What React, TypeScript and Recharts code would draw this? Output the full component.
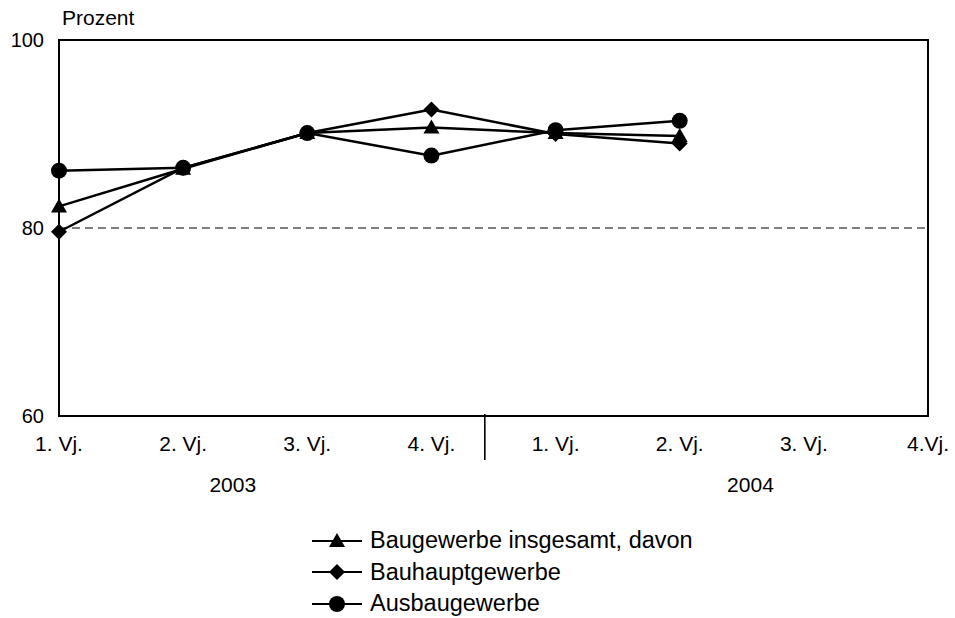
import { Line, LineChart, ReferenceArea, ReferenceLine, XAxis, YAxis } from "recharts"

const quarters = ["1. Vj.", "2. Vj.", "3. Vj.", "4. Vj.", "1. Vj.", "2. Vj.", "3. Vj.", "4.Vj."]
const years = ["2003", "2004"]
const yearPos = [1.4, 5.57]
const dividerPos = 3.43

const insgesamt = [82.3, 86.3, 90.1, 90.7, 90.1, 89.8]
const bauhaupt = [79.6, 86.4, 90.1, 92.6, 90.0, 89.0]
const ausbau = [86.1, 86.4, 90.1, 87.7, 90.4, 91.4]

const data = insgesamt.map((v, i) => ({
  x: i,
  insgesamt: v,
  bauhaupt: bauhaupt[i],
  ausbau: ausbau[i],
}))

const series = [
  { key: "insgesamt", name: "Baugewerbe insgesamt, davon", shape: "triangle" },
  { key: "bauhaupt", name: "Bauhauptgewerbe", shape: "diamond" },
  { key: "ausbau", name: "Ausbaugewerbe", shape: "circle" },
] as const

const font = "'Liberation Sans', Arial, sans-serif"

function Shape({ cx, cy, shape }: { cx: number; cy: number; shape: string }) {
  if (shape === "circle") return <circle cx={cx} cy={cy} r={8} fill="#000" />
  if (shape === "diamond")
    return <path d={`M${cx},${cy - 8}L${cx + 8},${cy}L${cx},${cy + 8}L${cx - 8},${cy}Z`} fill="#000" />
  return <path d={`M${cx},${cy - 8}L${cx + 8},${cy + 6}L${cx - 8},${cy + 6}Z`} fill="#000" />
}

function marker(shape: string) {
  return (p: any) => <Shape key={`${shape}-${p.index}`} cx={p.cx} cy={p.cy} shape={shape} />
}

function QuarterTick({ x, y, payload }: any) {
  if (payload.value === dividerPos) {
    return <line x1={x} x2={x} y1={y - 10} y2={y + 36} stroke="#000" strokeWidth={1.6} />
  }
  return (
    <text x={x} y={y} dy={27} textAnchor="middle" fontSize={21} fill="#000" fontFamily={font}>
      {quarters[payload.value]}
    </text>
  )
}

function YearTick({ x, y, payload }: any) {
  return (
    <text x={x} y={y} dy={22} textAnchor="middle" fontSize={21} fill="#000" fontFamily={font}>
      {years[yearPos.indexOf(payload.value)]}
    </text>
  )
}

function LegendBox() {
  return (
    <div style={{ position: "absolute", left: 312, top: 525, fontFamily: font, fontSize: 23.5, color: "#000" }}>
      {series.map((s) => (
        <div key={s.key} style={{ display: "flex", alignItems: "center", height: 31.5 }}>
          <svg width={52} height={20}>
            <line x1={0} x2={50} y1={10} y2={10} stroke="#000" strokeWidth={2.2} />
            <Shape cx={25} cy={10} shape={s.shape} />
          </svg>
          <span style={{ marginLeft: 6 }}>{s.name}</span>
        </div>
      ))}
    </div>
  )
}

export default function App() {
  return (
    <div style={{ position: "absolute", left: 0, top: 0, width: 955, height: 618, background: "#fff" }}>
      <div style={{ position: "absolute", left: 62, top: 6, fontFamily: font, fontSize: 21 }}>Prozent</div>
      <LineChart width={955} height={618} data={data} margin={{ top: 40, right: 27, bottom: 116, left: 0 }}>
        <XAxis
          dataKey="x"
          type="number"
          domain={[0, 7]}
          ticks={[0, 1, 2, 3, dividerPos, 4, 5, 6, 7]}
          tick={<QuarterTick />}
          tickLine={false}
          axisLine={false}
          interval={0}
          height={46}
        />
        <XAxis
          xAxisId="year"
          dataKey="x"
          type="number"
          domain={[0, 7]}
          allowDataOverflow
          ticks={yearPos}
          tick={<YearTick />}
          tickLine={false}
          axisLine={false}
          interval={0}
          height={40}
        />
        <YAxis
          domain={[60, 100]}
          ticks={[60, 80, 100]}
          tickLine={false}
          axisLine={false}
          tickSize={0}
          tickMargin={15}
          width={59}
          tick={{ fontSize: 20, fill: "#000", fontFamily: font }}
        />
        <ReferenceLine y={80} stroke="#000" strokeWidth={1} strokeDasharray="8 5" />
        <ReferenceArea x1={0} x2={7} y1={60} y2={100} fill="none" stroke="#000" strokeWidth={2} fillOpacity={0} />
        {series.map((s) => (
          <Line
            key={s.key}
            dataKey={s.key}
            name={s.name}
            type="linear"
            stroke="#000"
            strokeWidth={2.5}
            dot={marker(s.shape)}
            activeDot={false}
            isAnimationActive={false}
          />
        ))}
      </LineChart>
      <LegendBox />
    </div>
  )
}
